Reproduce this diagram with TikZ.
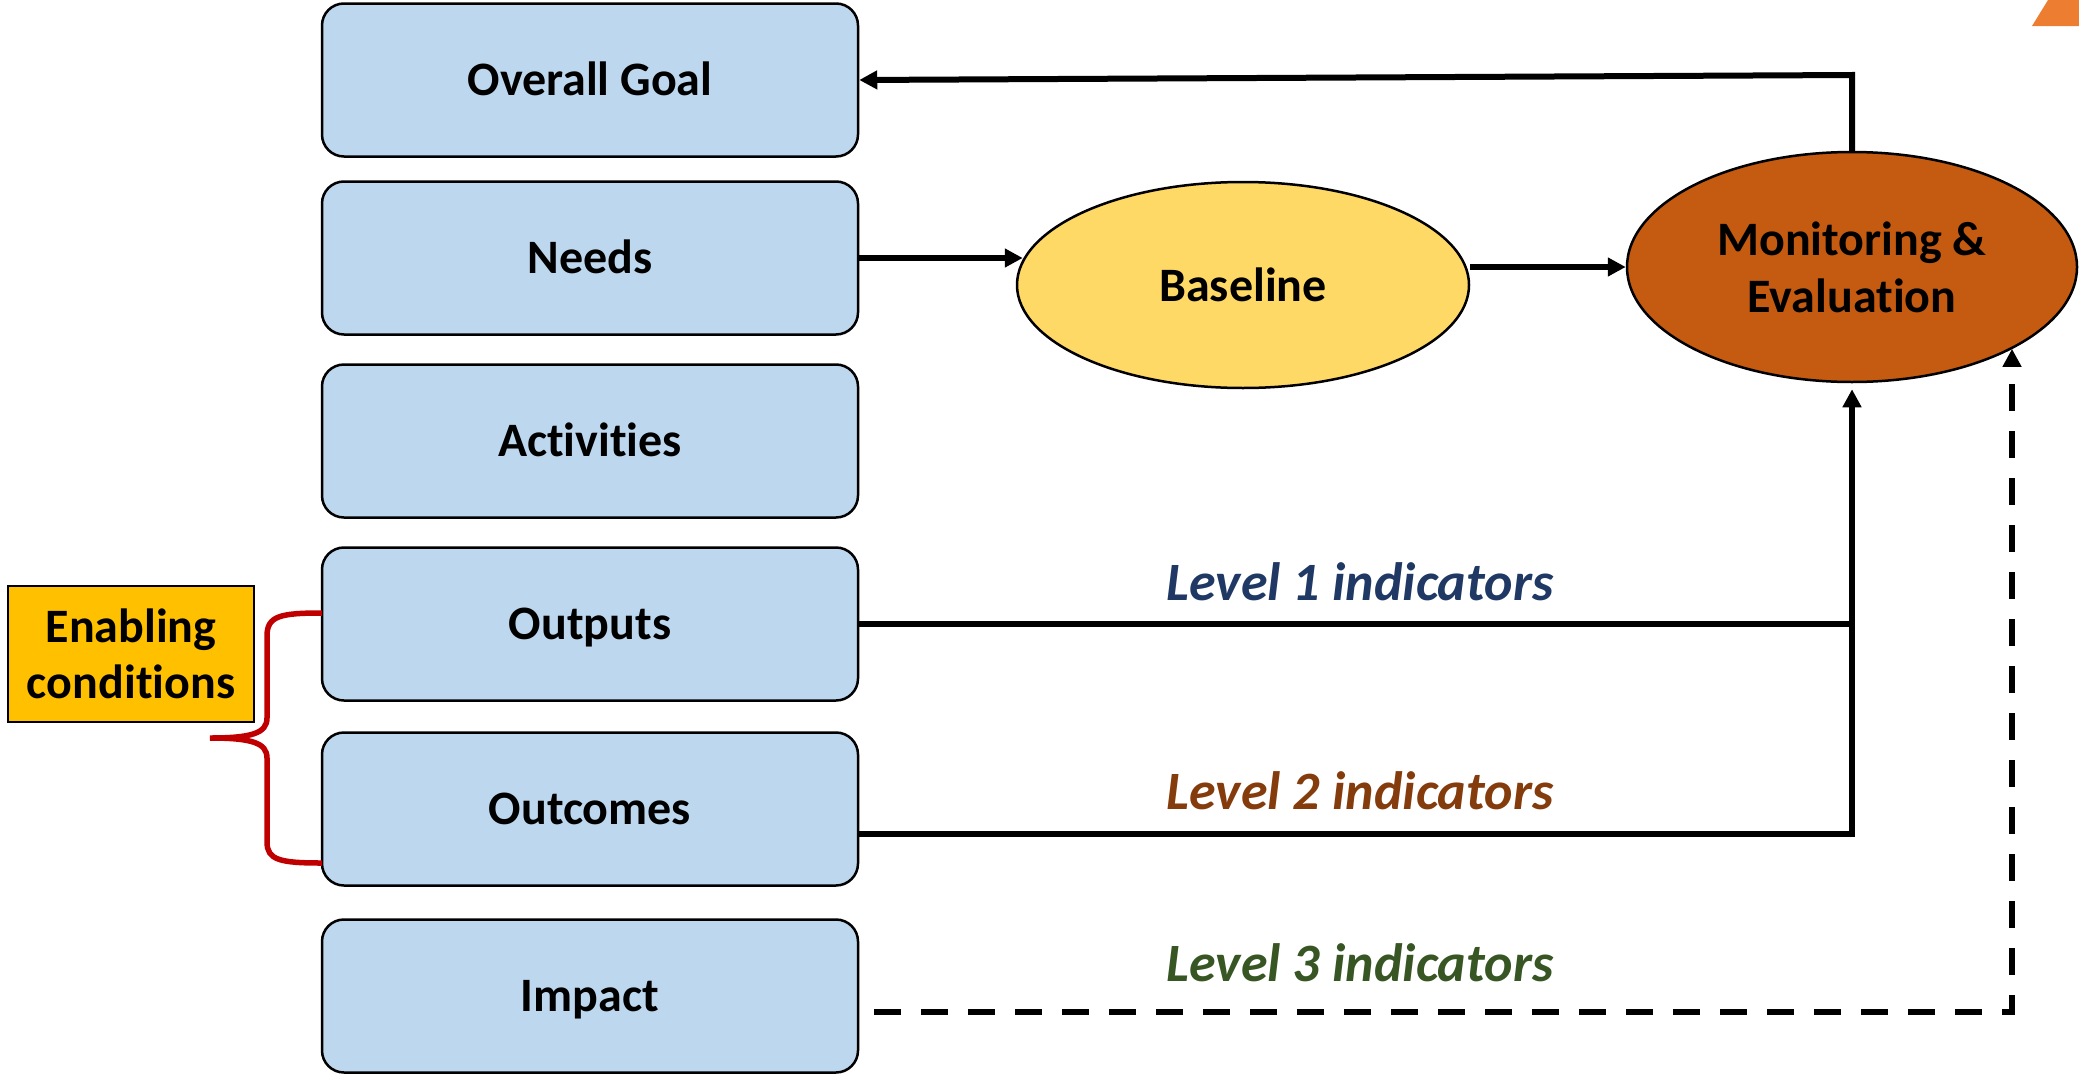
\documentclass[tikz,border=0pt]{standalone}
\usepackage{fontspec}
\setmainfont{Carlito}[Ligatures={NoCommon}]
\usetikzlibrary{shapes.geometric,arrows.meta}
\definecolor{boxblue}{HTML}{BDD7EE}
\definecolor{baseyellow}{HTML}{FFD966}
\definecolor{meorange}{HTML}{C55A11}
\definecolor{enablegold}{HTML}{FFC000}
\definecolor{bracered}{HTML}{C00000}
\definecolor{lvlone}{HTML}{1F3864}
\definecolor{lvltwo}{HTML}{843C0C}
\definecolor{lvlthree}{HTML}{375623}
\definecolor{cornerorange}{HTML}{ED7D31}
\tikzset{
  lfbox/.style={draw=black, line width=2.5pt, fill=boxblue, rounded corners=22pt,
    minimum width=536pt, minimum height=153pt, inner sep=0pt,
    font=\fontsize{48}{57}\selectfont\bfseries, text height=31pt, text depth=0pt},
  ovalnode/.style={ellipse, draw=black, line width=2.5pt, inner sep=0pt,
    font=\fontsize{48}{57}\selectfont\bfseries, align=center},
  lvllabel/.style={font=\fontsize{54}{64}\selectfont\bfseries\itshape, inner sep=0pt,
    text height=35pt, text depth=0pt},
  conn/.style={draw=black, line width=6pt, line join=miter},
  arr/.style={conn, -{Triangle[length=18pt,width=18pt]}},
}
\begin{document}
\begin{tikzpicture}[x=1pt,y=-1pt]
\useasboundingbox (0,0) rectangle (2079,1076);
% corner decoration
\fill[cornerorange] (2032,26) -- (2048,0) -- (2079,0) -- (2079,26) -- cycle;
% left column
\node[lfbox] (og)  at (590,80)  {Overall Goal};
\node[lfbox] (nd)  at (590,258) {Needs};
\node[lfbox] (act) at (590,441) {Activities};
\node[lfbox] (out) at (590,624) {Outputs};
\node[lfbox] (oc)  at (590,809) {Outcomes};
\node[lfbox] (imp) at (590,996) {Impact};
% ovals
\node[ovalnode, fill=baseyellow, minimum width=452pt, minimum height=206pt] (bl) at (1243,285) {Baseline};
\node[ovalnode, fill=meorange, minimum width=450pt, minimum height=230pt] (me) at (1852,267) {Monitoring \&\\Evaluation};
% enabling conditions
\node[draw=black, line width=2.5pt, fill=enablegold, minimum width=246pt, minimum height=136pt,
  inner sep=0pt, align=center, font=\fontsize{48}{56}\selectfont\bfseries] (en) at (131,654) {Enabling\\conditions};
% brace
\draw[bracered, line width=5.5pt]
  (322,613) .. controls (280,613) and (267,616) .. (267,636) -- (267,718)
  .. controls (267,733) and (252,738) .. (210,738)
  .. controls (252,738) and (267,743) .. (267,758) -- (267,842)
  .. controls (267,860) and (280,863) .. (322,863);
% connectors
\coordinate (tc) at (1852,75);
\coordinate (j1) at (1852,624);
\coordinate (j2) at (1852,834);
\coordinate (j3) at (2012,1012);
\draw[arr] (me.north) -- (tc) -- (og.east);
\draw[arr, shorten >=-7pt] (nd.east) -- (nd.east -| bl.west);
\draw[arr] (me.west -| bl.east) -- (me.west);
\draw[conn] (out.east) -- (j1);
\draw[arr, shorten >=6pt] ([yshift=-25pt]oc.east) -- (j2) -- (me.south);
\draw[arr, dash pattern=on 27pt off 20pt] ([xshift=15pt,yshift=-16pt]imp.east) -- (j3) -- (j3 |- me.-27);
% labels
\node[lvllabel, text=lvlone]   (l1) at (1360,583) {Level 1 indicators};
\node[lvllabel, text=lvltwo]   (l2) at (1360,792) {Level 2 indicators};
\node[lvllabel, text=lvlthree] (l3) at (1360,964) {Level 3 indicators};
\end{tikzpicture}
\end{document}
